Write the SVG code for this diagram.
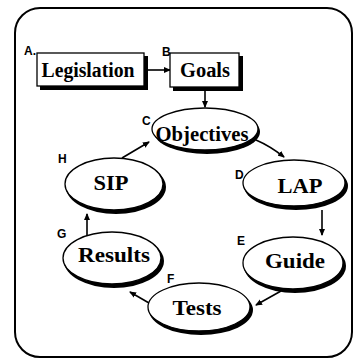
<svg xmlns="http://www.w3.org/2000/svg" width="354" height="360" viewBox="0 0 354 360">
<style>
.frame{fill:#fff;stroke:#000;stroke-width:2}
.shadow{fill:#000}
.shape{fill:#fff;stroke:#000;stroke-width:1.3}
.t{font-family:"Liberation Serif",serif;font-weight:bold;font-size:22px;text-anchor:middle;fill:#000}
.tb{font-family:"Liberation Serif",serif;font-weight:bold;font-size:20px;text-anchor:middle;fill:#000}
.lab{font-family:"Liberation Sans",sans-serif;font-weight:bold;font-size:12px;fill:#000}
.c{stroke:#000;stroke-width:1.6;fill:none;marker-end:url(#ah)}
</style>
<defs>
<marker id="ah" markerWidth="7" markerHeight="7" refX="6" refY="3.5" orient="auto" markerUnits="userSpaceOnUse">
<path d="M0,0.5 L7,3.5 L0,6.5 Z" fill="#000"/>
</marker>
</defs>
<rect class="frame" x="15" y="8" width="337" height="349" rx="25"/>
<g id="connectors">
<line class="c" x1="146" y1="70" x2="170" y2="70"/>
<line class="c" x1="205" y1="91" x2="205" y2="107"/>
<path class="c" d="M256,140 Q270,146 284,157"/>
<line class="c" x1="322" y1="210" x2="322" y2="235"/>
<line class="c" x1="281" y1="291" x2="256" y2="305"/>
<line class="c" x1="149" y1="303" x2="130" y2="292"/>
<line class="c" x1="87" y1="236" x2="87" y2="214"/>
<line class="c" x1="122" y1="158" x2="149" y2="142"/>
</g>
<g id="legislation">
<rect class="shadow" x="40" y="56" width="108" height="34"/>
<rect class="shape" x="37" y="53" width="107" height="33"/>
<text class="tb" x="88" y="77" textLength="93" lengthAdjust="spacingAndGlyphs">Legislation</text>
<text class="lab" x="24" y="55">A.</text>
</g>
<g id="goals">
<rect class="shadow" x="173" y="56" width="70" height="35"/>
<rect class="shape" x="170" y="53" width="69" height="34"/>
<text class="tb" x="205" y="77" textLength="50" lengthAdjust="spacingAndGlyphs">Goals</text>
<text class="lab" x="162" y="56">B</text>
</g>
<g id="objectives">
<ellipse class="shadow" cx="207" cy="132" rx="53" ry="22"/>
<ellipse class="shape" cx="205" cy="129" rx="53" ry="21"/>
<text class="t" x="202" y="141" textLength="93" lengthAdjust="spacingAndGlyphs">Objectives</text>
<text class="lab" x="142" y="125">C</text>
</g>
<g id="lap">
<ellipse class="shadow" cx="296" cy="186" rx="52" ry="24"/>
<ellipse class="shape" cx="294" cy="183" rx="51" ry="23"/>
<text class="t" x="300" y="193" textLength="45" lengthAdjust="spacingAndGlyphs">LAP</text>
<text class="lab" x="235" y="179">D</text>
</g>
<g id="guide">
<ellipse class="shadow" cx="295" cy="266" rx="51" ry="27"/>
<ellipse class="shape" cx="293" cy="263" rx="50" ry="26"/>
<text class="t" x="295" y="268" textLength="60" lengthAdjust="spacingAndGlyphs">Guide</text>
<text class="lab" x="237" y="245">E</text>
</g>
<g id="tests">
<ellipse class="shadow" cx="201" cy="310" rx="52" ry="25"/>
<ellipse class="shape" cx="199" cy="307" rx="51" ry="24"/>
<text class="t" x="197" y="315" textLength="49" lengthAdjust="spacingAndGlyphs">Tests</text>
<text class="lab" x="167" y="283">F</text>
</g>
<g id="results">
<ellipse class="shadow" cx="114" cy="261" rx="50" ry="27"/>
<ellipse class="shape" cx="112" cy="258" rx="49" ry="26"/>
<text class="t" x="114" y="262" textLength="72" lengthAdjust="spacingAndGlyphs">Results</text>
<text class="lab" x="57" y="238">G</text>
</g>
<g id="sip">
<ellipse class="shadow" cx="116" cy="187" rx="50" ry="27"/>
<ellipse class="shape" cx="114" cy="184" rx="49" ry="26"/>
<text class="t" x="111" y="190" textLength="35" lengthAdjust="spacingAndGlyphs">SIP</text>
<text class="lab" x="58" y="163">H</text>
</g>
</svg>
